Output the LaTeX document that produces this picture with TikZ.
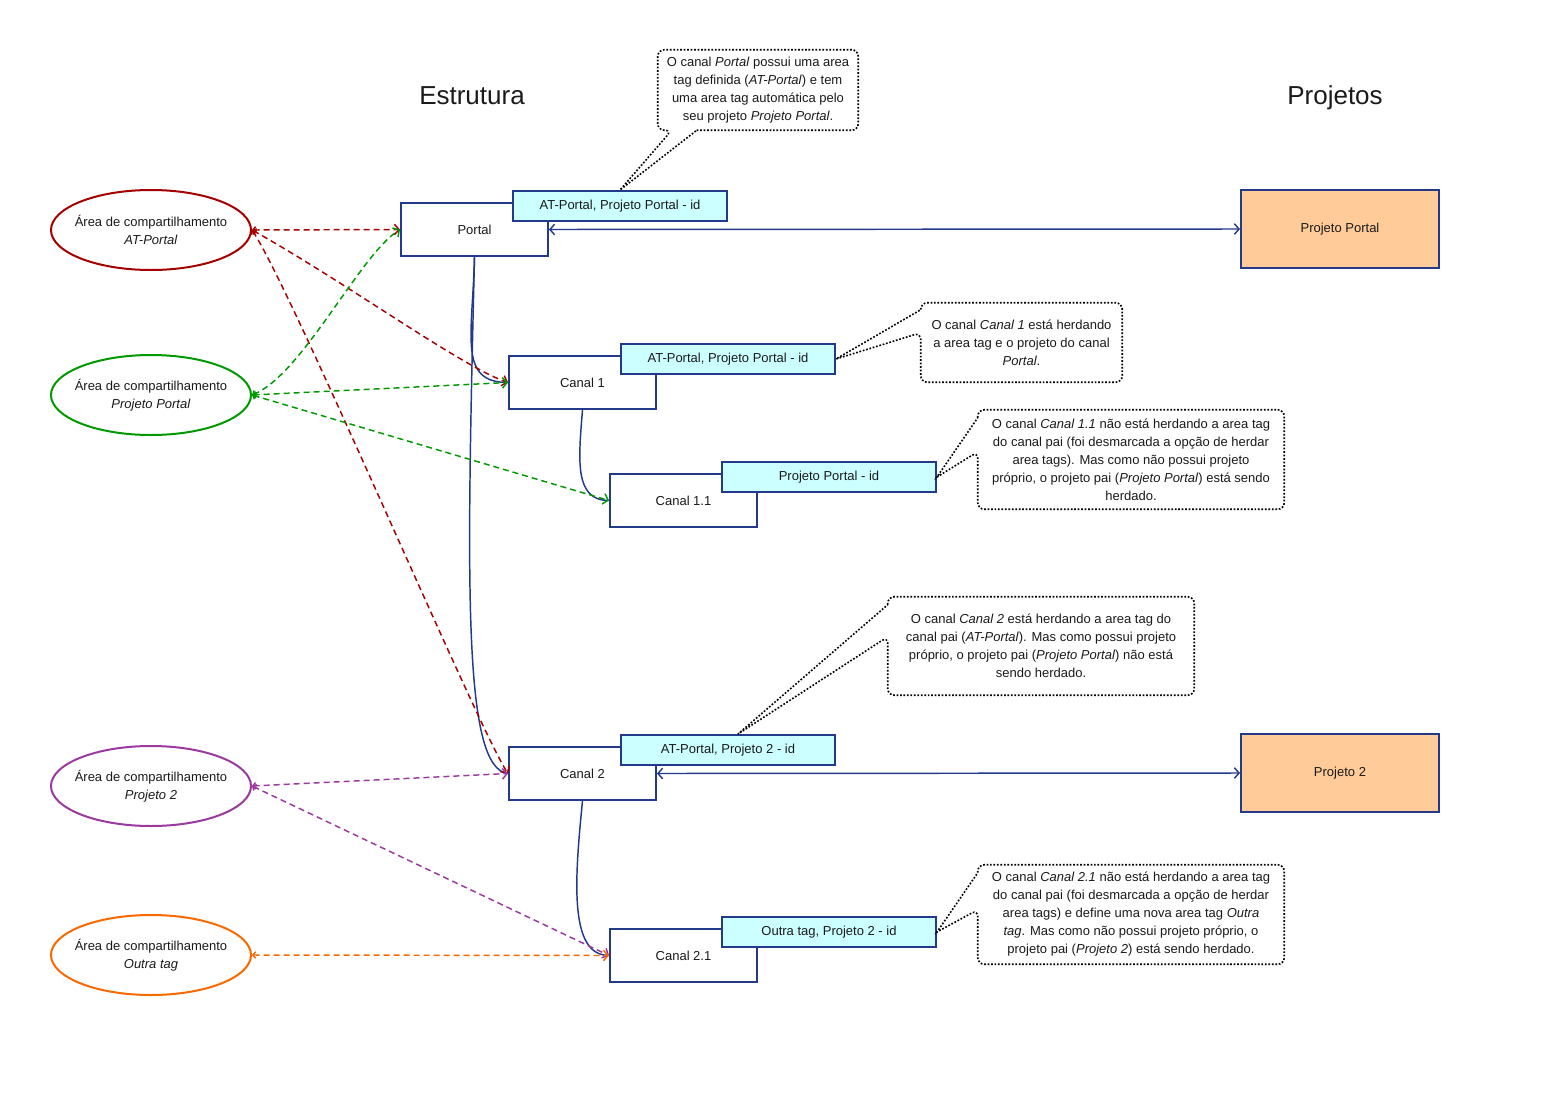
\documentclass[tikz,border=0pt]{standalone}
\usepackage{fontspec}
\setmainfont{Liberation Sans}
\usetikzlibrary{arrows.meta,shapes.geometric}
\definecolor{ccNavy}{HTML}{233A8A}
\definecolor{ccRed}{HTML}{A50000}
\definecolor{ccGreen}{HTML}{009900}
\definecolor{ccPurple}{HTML}{9B3A9E}
\definecolor{ccOrange}{HTML}{FA6800}
\definecolor{ccCyan}{HTML}{CCFFFF}
\definecolor{ccPeach}{HTML}{FFCC99}
\definecolor{ccText}{HTML}{1A1A1A}

\begin{document}
\begin{tikzpicture}[x=0.75pt, y=-0.75pt,
    every node/.style={text=ccText, font=\fontsize{9.75}{13.5}\selectfont},
    canalbox/.style={draw=ccNavy, fill=white, line width=1.5pt, minimum width=110.25pt, minimum height=39.75pt, inner sep=0pt},
    tagbox/.style={draw=ccNavy, fill=ccCyan, line width=1.5pt, minimum width=160.5pt, minimum height=22.5pt, inner sep=0pt},
    projbox/.style={draw=ccNavy, fill=ccPeach, line width=1.5pt, minimum width=148.5pt, minimum height=58.5pt, inner sep=0pt},
    areashape/.style={ellipse, line width=1.5pt, fill=white, minimum width=150pt, minimum height=60pt, inner sep=0pt},
    notebox/.style={align=center, inner sep=0pt},
    noteline/.style={draw=black, line width=1.2pt, dash pattern=on 1.3pt off 1.3pt},
    treeline/.style={draw=ccNavy, line width=1.1pt},
    projline/.style={draw=ccNavy, line width=1.1pt, arrows={Straight Barb[length=3.5pt,width=8pt]-Straight Barb[length=3.5pt,width=8pt]}},
    shareline/.style={line width=1.1pt, dash pattern=on 4.5pt off 3pt, arrows={Straight Barb[length=2pt,width=5pt]-Straight Barb[length=3.5pt,width=8pt]}}]
    \fill[white] (0,0) rectangle (1543,1096);
    \useasboundingbox (0,0) rectangle (1543,1096);
    % titles
    \node[font=\fontsize{19.5}{23}\selectfont, anchor=base] (titleEstr) at (472,104) {Estrutura};
    \node[font=\fontsize{19.5}{23}\selectfont, anchor=base] (titleProj) at (1335,104) {Projetos};
    % sharing areas
    \node[areashape, draw=ccRed, label={[align=center]center:{Área de compartilhamento\\\textit{AT-Portal}}}] (areaAT) at (151,230) {};
    \node[areashape, draw=ccGreen, label={[align=center]center:{Área de compartilhamento\\\textit{Projeto Portal}}}] (areaPP) at (151,395) {};
    \node[areashape, draw=ccPurple, label={[align=center]center:{Área de compartilhamento\\\textit{Projeto 2}}}] (areaP2) at (151,786) {};
    \node[areashape, draw=ccOrange, label={[align=center]center:{Área de compartilhamento\\\textit{Outra tag}}}] (areaOT) at (151,955) {};
    % channel tree
    \node[canalbox] (portal) at (474.5,229.5) {Portal};
    \node[canalbox] (canal1) at (582.5,382.5) {Canal 1};
    \node[canalbox] (canal11) at (683.5,500.5) {Canal 1.1};
    \node[canalbox] (canal2) at (582.5,773.5) {Canal 2};
    \node[canalbox] (canal21) at (683.5,955.5) {Canal 2.1};
    \node[tagbox] (tagPortal) at (620,206) {AT-Portal, Projeto Portal - id};
    \node[tagbox] (tagCanal1) at (728,359) {AT-Portal, Projeto Portal - id};
    \node[tagbox] (tagCanal11) at (829,477) {Projeto Portal - id};
    \node[tagbox] (tagCanal2) at (728,750) {AT-Portal, Projeto 2 - id};
    \node[tagbox] (tagCanal21) at (829,932) {Outra tag, Projeto 2 - id};
    % projects
    \node[projbox] (projPortal) at (1340,229) {Projeto Portal};
    \node[projbox] (proj2) at (1340,773) {Projeto 2};
    % parent links
    \draw[treeline] (portal.south) .. controls +(-2,80) and +(-50,0) .. (canal1.west);
    \draw[treeline] (portal.south) .. controls +(-8,330) and +(-45,-5) .. (canal2.west);
    \draw[treeline] (canal1.south) .. controls +(-4,50) and +(-35,0) .. (canal11.west);
    \draw[treeline] (canal2.south) .. controls +(-8,80) and +(-40,0) .. (canal21.west);
    \draw[projline] (portal.east) -- (projPortal.west);
    \draw[projline] (canal2.east) -- (proj2.west);
    % area tags in use
    \draw[shareline, ccRed] (areaAT.east) -- (portal.west);
    \draw[shareline, ccRed] (areaAT.east) .. controls +(90,50) and +(-45,-15) .. (canal1.west);
    \draw[shareline, ccRed] (areaAT.east) .. controls +(40,60) and +(-30,-45) .. (canal2.west);
    \draw[shareline, ccGreen] (areaPP.east) .. controls +(50,-20) and +(-40,25) .. (portal.west);
    \draw[shareline, ccGreen] (areaPP.east) -- (canal1.west);
    \draw[shareline, ccGreen] (areaPP.east) -- (canal11.west);
    \draw[shareline, ccPurple] (areaP2.east) -- (canal2.west);
    \draw[shareline, ccPurple] (areaP2.east) -- (canal21.west);
    \draw[shareline, ccOrange] (areaOT.east) -- (canal21.west);
    % notes
    \node[notebox, minimum width=150pt, minimum height=60pt] (notePortal) at (758,90) {O canal \textit{Portal} possui uma area\\tag definida (\textit{AT-Portal}) e tem\\uma area tag automática pelo\\seu projeto \textit{Projeto Portal}.};
    \draw[noteline] ([xshift=29.25pt]notePortal.south west) [rounded corners=5pt] -- (notePortal.south east) -- (notePortal.north east) -- (notePortal.north west) -- (notePortal.south west) -- ([xshift=10.5pt]notePortal.south west) [sharp corners] -- (tagPortal.north) -- cycle;
    \node[notebox, minimum width=150.75pt, minimum height=59.25pt] (noteCanal1) at (1021.5,342.5) {O canal \textit{Canal 1} está herdando\\a area tag e o projeto do canal\\\textit{Portal}.};
    \draw[noteline] ([yshift=-5.25pt]noteCanal1.north west) [rounded corners=5pt] -- (noteCanal1.north west) -- (noteCanal1.north east) -- (noteCanal1.south east) -- (noteCanal1.south west) -- ([yshift=-22.5pt]noteCanal1.north west) [sharp corners] -- (tagCanal1.east) -- cycle;
    \node[notebox, minimum width=229.5pt, minimum height=74.25pt] (noteCanal11) at (1131,459.5) {O canal \textit{Canal 1.1} não está herdando a area tag\\do canal pai (foi desmarcada a opção de herdar\\area tags). Mas como não possui projeto\\próprio, o projeto pai (\textit{Projeto Portal}) está sendo\\herdado.};
    \draw[noteline] ([yshift=-6pt]noteCanal11.north west) [rounded corners=5pt] -- (noteCanal11.north west) -- (noteCanal11.north east) -- (noteCanal11.south east) -- (noteCanal11.south west) -- ([yshift=-31.5pt]noteCanal11.north west) [sharp corners] -- (tagCanal11.east) -- cycle;
    \node[notebox, minimum width=229.5pt, minimum height=73.5pt] (noteCanal2) at (1041,646) {O canal \textit{Canal 2} está herdando a area tag do\\canal pai (\textit{AT-Portal}). Mas como possui projeto\\próprio, o projeto pai (\textit{Projeto Portal}) não está\\sendo herdado.};
    \draw[noteline] ([yshift=-6pt]noteCanal2.north west) [rounded corners=5pt] -- (noteCanal2.north west) -- (noteCanal2.north east) -- (noteCanal2.south east) -- (noteCanal2.south west) -- ([yshift=-30pt]noteCanal2.north west) [sharp corners] -- ([xshift=7.5pt]tagCanal2.north) -- cycle;
    \node[notebox, minimum width=229.5pt, minimum height=74.25pt] (noteCanal21) at (1131,914.5) {O canal \textit{Canal 2.1} não está herdando a area tag\\do canal pai (foi desmarcada a opção de herdar\\area tags) e define uma nova area tag \textit{Outra}\\\textit{tag}. Mas como não possui projeto próprio, o\\projeto pai (\textit{Projeto 2}) está sendo herdado.};
    \draw[noteline] ([yshift=-6pt]noteCanal21.north west) [rounded corners=5pt] -- (noteCanal21.north west) -- (noteCanal21.north east) -- (noteCanal21.south east) -- (noteCanal21.south west) -- ([yshift=-33.75pt]noteCanal21.north west) [sharp corners] -- (tagCanal21.east) -- cycle;
\end{tikzpicture}
\end{document}
